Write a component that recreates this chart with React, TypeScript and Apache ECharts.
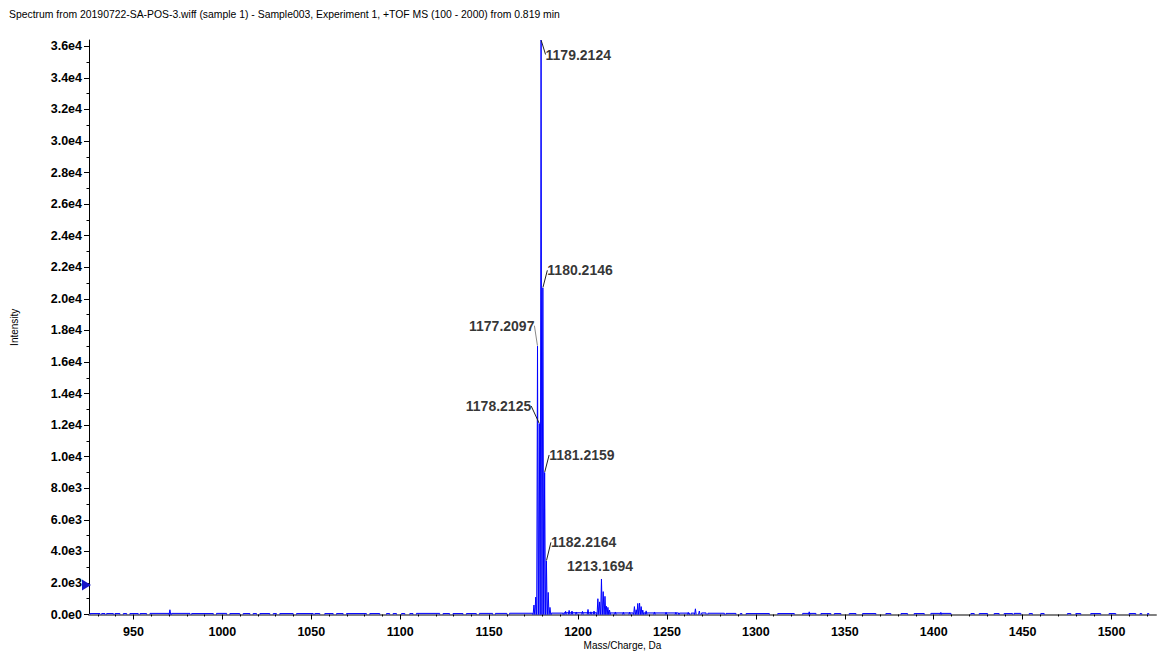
import React, { useEffect, useRef } from "react";
import * as echarts from "echarts";

const TITLE =
  "Spectrum from 20190722-SA-POS-3.wiff (sample 1) - Sample003, Experiment 1, +TOF MS (100 - 2000) from 0.819 min";
const X_NAME = "Mass/Charge, Da";
const Y_NAME = "Intensity";
const X_MIN = 925;
const X_MAX = 1525;
const Y_MAX = 36400;

const xTickValues = [950, 1000, 1050, 1100, 1150, 1200, 1250, 1300, 1350, 1400, 1450, 1500];
const yTickValues = [
  0, 2000, 4000, 6000, 8000, 10000, 12000, 14000, 16000, 18000, 20000, 22000, 24000, 26000,
  28000, 30000, 32000, 34000, 36000,
];

// profile peaks (m/z, intensity)
const peakMz = [
  970.5, 1175.2, 1176.2, 1177.2097, 1178.2125, 1179.2124, 1180.2146, 1181.2159, 1182.2164,
  1183.22, 1184.22, 1193.0, 1195.0, 1196.6, 1199.0, 1202.5, 1205.6, 1207.2, 1209.0, 1211.15,
  1212.15, 1213.1694, 1214.15, 1215.15, 1216.0, 1216.8, 1217.7, 1221.0, 1225.5, 1229.0,
  1231.7, 1232.7, 1233.6, 1234.6, 1235.5, 1236.4, 1238.3, 1243.0, 1249.5, 1255.0, 1262.0,
  1266.0, 1268.2, 1330.0, 1404.0,
];
const peakIntensity = [
  300, 600, 1100, 17000, 12100, 36400, 20700, 9000, 3400, 1400, 450, 200, 260, 220, 160, 200,
  320, 170, 220, 1000, 800, 2250, 1450, 1150, 520, 450, 280, 160, 140, 150, 500, 300, 700, 720,
  500, 280, 230, 160, 140, 130, 130, 360, 220, 170, 130,
];

// low baseline noise runs: [start m/z, end m/z, intensity]
const noiseRuns = [
  [925.6, 931.2, 60], [932.1, 934.0, 60], [934.9, 938.7, 60], [939.6, 942.4, 60],
  [944.3, 946.2, 60], [948.0, 952.7, 60], [953.7, 957.4, 60], [959.3, 970.0, 70],
  [971.4, 981.8, 70], [982.7, 994.9, 60], [996.7, 1002.4, 70], [1004.2, 1009.8, 60],
  [1011.7, 1015.5, 60], [1017.3, 1019.2, 60], [1021.1, 1026.7, 60], [1028.6, 1030.4, 60],
  [1032.3, 1039.8, 60], [1041.7, 1051.1, 60], [1052.0, 1054.8, 60], [1057.6, 1062.3, 60],
  [1064.2, 1067.9, 60], [1069.8, 1081.0, 60], [1082.9, 1088.5, 60], [1092.3, 1094.1, 60],
  [1096.0, 1097.9, 60], [1100.7, 1102.6, 60], [1105.4, 1107.2, 60], [1109.1, 1122.2, 70],
  [1124.1, 1127.8, 60], [1129.7, 1135.3, 60], [1137.2, 1142.8, 60], [1144.5, 1152.0, 70],
  [1153.5, 1160.0, 70], [1161.5, 1174.5, 80], [1185.0, 1191.5, 90], [1192.0, 1210.5, 110],
  [1218.0, 1231.0, 100], [1237.0, 1256.5, 100], [1257.0, 1262.6, 90], [1263.6, 1265.4, 90],
  [1269.5, 1272.0, 100], [1273.0, 1282.3, 80], [1283.2, 1288.8, 70], [1291.2, 1292.2, 60],
  [1294.5, 1307.6, 60], [1312.3, 1321.6, 60], [1326.3, 1333.8, 70], [1336.6, 1342.2, 60],
  [1344.1, 1347.8, 60], [1352.5, 1356.3, 60], [1360.0, 1367.5, 60], [1373.1, 1375.9, 60],
  [1381.6, 1385.3, 60], [1389.0, 1394.7, 60], [1398.4, 1409.7, 70], [1420.9, 1422.8, 60],
  [1425.6, 1430.3, 60], [1434.0, 1436.8, 60], [1439.6, 1444.3, 60], [1445.2, 1449.0, 70],
  [1453.7, 1455.5, 60], [1460.2, 1462.1, 60], [1475.2, 1477.1, 60], [1479.9, 1482.7, 60],
  [1488.3, 1493.9, 60], [1498.6, 1502.4, 60], [1509.9, 1513.6, 60], [1516.0, 1517.0, 60],
  [1520.2, 1521.0, 60],
];

const labeledPeaks = [1179.2124, 1180.2146, 1177.2097, 1178.2125, 1181.2159, 1182.2164, 1213.1694];
const thresholdLevel = 1870;

// label offsets (style): [dx, dy, showLine]
const labelOffsets: [number, number, boolean][] = [
  [5, 8, true],
  [5, -24, true],
  [-68, -27, true],
  [-73, -24, true],
  [5, -24, true],
  [5, -25, true],
  [-34, -19, false],
];

const FONT = "'Liberation Sans', Arial, Helvetica, sans-serif";
const HALF = 0.45;

export default function App() {
  const ref = useRef<HTMLDivElement>(null);

  useEffect(() => {
    if (!ref.current) return;
    const chart = echarts.init(ref.current, undefined, { renderer: "svg" });

    const shapes: any[][] = [];
    noiseRuns.forEach(([s, e, h]) => shapes.push([[s, 0], [s, h], [e, h], [e, 0]]));
    peakMz.forEach((m, i) =>
      shapes.push([[m - HALF, 0], [m, peakIntensity[i]], [m + HALF, 0]])
    );
    shapes.sort((a, b) => a[0][0] - b[0][0]);
    const profile: any[] = [];
    shapes.forEach((sh) => {
      sh.forEach((p: any) => profile.push(p));
      profile.push([sh[sh.length - 1][0], "-"]);
    });

    const labelData = labeledPeaks.map((m, i) => ({
      value: [m, peakIntensity[peakMz.indexOf(m)]],
      labelLine: {
        show: labelOffsets[i][2],
        lineStyle: { color: i === 2 ? "#888" : "#222", width: 1 },
      },
    }));

    const xMinor: number[] = [];
    for (let v = 930; v < X_MAX; v += 10) if (v % 50 !== 0) xMinor.push(v);
    const yMinor: number[] = [];
    for (let i = 0; i < yTickValues.length; i++) {
      const v = yTickValues[i] + 1000;
      if (v < Y_MAX) yMinor.push(v);
    }

    chart.setOption({
      animation: false,
      title: {
        text: TITLE,
        left: 9,
        top: 9.5,
        padding: 0,
        textStyle: { fontSize: 10.4, fontWeight: "normal", color: "#000", fontFamily: FONT },
      },
      grid: {
        left: 89,
        right: 2,
        top: 40,
        bottom: 38.5,
        containLabel: false,
        outerBoundsMode: "none",
      },
      xAxis: [
        {
          type: "value",
          min: X_MIN,
          max: X_MAX,
          position: "bottom",
          axisLine: { show: true, lineStyle: { color: "#808080", width: 2 } },
          axisTick: {
            show: true,
            length: 5,
            customValues: xTickValues,
            lineStyle: { color: "#000", width: 1 },
          },
          axisLabel: {
            customValues: xTickValues,
            formatter: (v: number) => String(v),
            color: "#000",
            fontSize: 12.5,
            fontWeight: "bold",
            fontFamily: FONT,
            margin: 11,
          },
          splitLine: { show: false },
          name: X_NAME,
          nameLocation: "middle",
          nameGap: 26,
          nameMoveOverlap: false,
          nameTextStyle: { fontSize: 10, color: "#000", fontFamily: FONT },
        },
        {
          type: "value",
          min: X_MIN,
          max: X_MAX,
          position: "bottom",
          axisLine: { show: false },
          axisTick: {
            show: true,
            length: 2,
            customValues: xMinor,
            lineStyle: { color: "#000", width: 1 },
          },
          axisLabel: { show: false },
          splitLine: { show: false },
        },
      ],
      yAxis: [
        {
          type: "value",
          min: 0,
          max: Y_MAX,
          position: "left",
          axisLine: { show: true, lineStyle: { color: "#000", width: 1 } },
          axisTick: {
            show: true,
            length: 5,
            customValues: yTickValues,
            lineStyle: { color: "#000", width: 1 },
          },
          axisLabel: {
            customValues: yTickValues,
            formatter: (v: number) => v.toExponential(1).replace("+", ""),
            color: "#000",
            fontSize: 12.5,
            fontWeight: "bold",
            fontFamily: FONT,
            margin: 7,
          },
          splitLine: { show: false },
          name: Y_NAME,
          nameLocation: "middle",
          nameGap: 70,
          nameRotate: 90,
          nameTextStyle: { fontSize: 10, color: "#000", fontFamily: FONT },
        },
        {
          type: "value",
          min: 0,
          max: Y_MAX,
          position: "left",
          offset: 0,
          axisLine: { show: false },
          axisTick: {
            show: true,
            length: 2.5,
            customValues: yMinor,
            lineStyle: { color: "#000", width: 1 },
          },
          axisLabel: { show: false },
          splitLine: { show: false },
        },
      ],
      series: [
        {
          type: "line",
          name: "profile",
          xAxisIndex: 0,
          yAxisIndex: 0,
          data: profile,
          showSymbol: false,
          symbol: "none",
          connectNulls: false,
          silent: true,
          lineStyle: { color: "#0000ff", width: 1 },
          areaStyle: { color: "rgba(110,110,255,0.55)" },
          markPoint: {
            symbol: "triangle",
            symbolRotate: -90,
            symbolSize: [11, 9],
            symbolOffset: [-2.5, 0],
            silent: true,
            label: { show: false },
            itemStyle: { color: "#1414c8" },
            data: [{ coord: [X_MIN, thresholdLevel] }],
          },
          z: 3,
        },
        {
          type: "scatter",
          name: "labels",
          xAxisIndex: 0,
          yAxisIndex: 0,
          data: labelData,
          symbol: "circle",
          symbolSize: 1,
          silent: true,
          itemStyle: { color: "rgba(0,0,0,0)" },
          label: {
            show: true,
            position: [0, 0],
            align: "left",
            verticalAlign: "top",
            lineHeight: 14,
            fontSize: 14,
            fontWeight: "bold",
            fontFamily: FONT,
            color: "#000",
            formatter: (p: any) => p.value[0].toFixed(4),
          },
          labelLine: { show: true, lineStyle: { color: "#222", width: 1 } },
          labelLayout: (params: any) => {
            const o = labelOffsets[params.dataIndex];
            return { dx: o[0], dy: o[1] };
          },
          z: 5,
        },
      ],
    });

    return () => chart.dispose();
  }, []);

  return (
    <div
      ref={ref}
      style={{ position: "absolute", left: 0, top: 0, width: 1158, height: 653, background: "#fff" }}
    />
  );
}
